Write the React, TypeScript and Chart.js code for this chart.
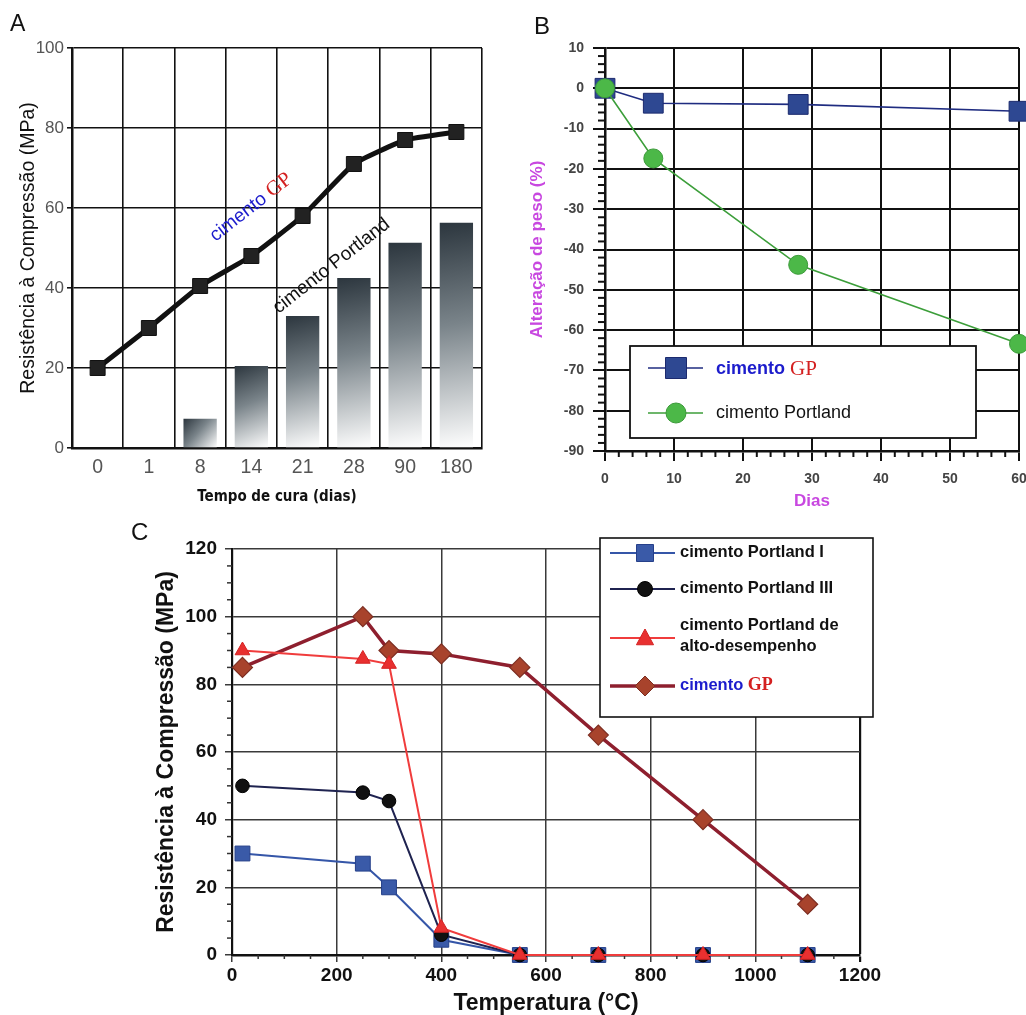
import React, { useEffect, useRef } from 'react';
import { Chart, registerables } from 'chart.js';

Chart.register(...registerables);

const SANS = "'Liberation Sans', Arial, sans-serif";
const NARROW = "'Liberation Sans Narrow', 'DejaVu Sans Condensed', sans-serif";
const SERIF = "'Liberation Serif', 'Times New Roman', serif";

// ---------- Panel A ----------
const curaLabels = ['0', '1', '8', '14', '21', '28', '90', '180'];
const gpResistencia = [20, 30, 40.5, 48, 58, 71, 77, 79];
const portlandResistencia = [null, null, 7.3, 20.5, 33, 42.5, 51.3, 56.3];

// ---------- Panel B ----------
const dias = [0, 7, 28, 60];
const gpPeso = [0, -3.7, -4, -5.7];
const portlandPeso = [0, -17.4, -43.8, -63.4];

// ---------- Panel C ----------
const temperaturas = [20, 250, 300, 400, 550, 700, 900, 1100];
const portlandI = [30, 27, 20, 4.5, 0, 0, 0, 0];
const portlandIII = [50, 48, 45.5, 6, 0, 0, 0, 0];
const altoDesempenho = [90, 87.5, 86, 8, 0, 0, 0, 0];
const gpTemperatura = [85, 100, 90, 89, 85, 65, 40, 15];

const BLUE_TXT = '#1c1ccc';
const RED_TXT = '#d42020';
const MAGENTA = '#c848e0';

function drawMarker(ctx: CanvasRenderingContext2D, style: string, x: number, y: number, r: number, fill: string, stroke: string, lw: number) {
  ctx.beginPath();
  if (style === 'rect') ctx.rect(x - r, y - r, 2 * r, 2 * r);
  else if (style === 'circle') ctx.arc(x, y, r, 0, Math.PI * 2);
  else if (style === 'triangle') {
    ctx.moveTo(x, y - r);
    ctx.lineTo(x + r * 0.95, y + r * 0.75);
    ctx.lineTo(x - r * 0.95, y + r * 0.75);
    ctx.closePath();
  } else if (style === 'diamond') {
    ctx.moveTo(x, y - r);
    ctx.lineTo(x + r, y);
    ctx.lineTo(x, y + r);
    ctx.lineTo(x - r, y);
    ctx.closePath();
  }
  ctx.fillStyle = fill;
  ctx.fill();
  ctx.lineWidth = lw;
  ctx.strokeStyle = stroke;
  ctx.stroke();
}

function hline(ctx: CanvasRenderingContext2D, x0: number, x1: number, y: number, color: string, w: number) {
  ctx.beginPath();
  ctx.moveTo(x0, y);
  ctx.lineTo(x1, y);
  ctx.strokeStyle = color;
  ctx.lineWidth = w;
  ctx.stroke();
}

// label text where a trailing "GP" is drawn red in a serif face
function drawLabel(ctx: CanvasRenderingContext2D, text: string, x: number, y: number, font: string, color: string, gpFont: string) {
  if (text.endsWith(' GP')) {
    const head = text.slice(0, -2);
    ctx.font = font;
    ctx.fillStyle = BLUE_TXT;
    ctx.fillText(head, x, y);
    const w = ctx.measureText(head).width;
    ctx.font = gpFont;
    ctx.fillStyle = RED_TXT;
    ctx.fillText('GP', x + w, y);
  } else {
    ctx.font = font;
    ctx.fillStyle = color;
    ctx.fillText(text, x, y);
  }
}

type MinorAxis = { step: number; major: number; len: number };
function makeMinorTicks(cfg: { x?: MinorAxis; y?: MinorAxis; color: string; width: number }) {
  return {
    id: 'minorTicks',
    beforeDatasetsDraw(chart: any) {
      const { ctx, chartArea } = chart;
      ctx.save();
      ctx.strokeStyle = cfg.color;
      ctx.lineWidth = cfg.width;
      const isMajor = (v: number, m: number) => Math.abs(v / m - Math.round(v / m)) < 1e-6;
      if (cfg.y) {
        const s = chart.scales.y;
        const n = Math.round((s.max - s.min) / cfg.y.step);
        for (let i = 0; i <= n; i++) {
          const v = s.min + i * cfg.y.step;
          if (isMajor(v, cfg.y.major)) continue;
          const p = s.getPixelForValue(v);
          ctx.beginPath();
          ctx.moveTo(chartArea.left, p);
          ctx.lineTo(chartArea.left - cfg.y.len, p);
          ctx.stroke();
        }
      }
      if (cfg.x) {
        const s = chart.scales.x;
        const n = Math.round((s.max - s.min) / cfg.x.step);
        for (let i = 0; i <= n; i++) {
          const v = s.min + i * cfg.x.step;
          if (isMajor(v, cfg.x.major)) continue;
          const p = s.getPixelForValue(v);
          ctx.beginPath();
          ctx.moveTo(p, chartArea.bottom);
          ctx.lineTo(p, chartArea.bottom + cfg.x.len);
          ctx.stroke();
        }
      }
      ctx.restore();
    },
  };
}

const annotA = {
  id: 'annotA',
  afterDatasetsDraw(chart: any) {
    const { ctx } = chart;
    const xs = chart.scales.x;
    const ys = chart.scales.y;
    const step = xs.getPixelForValue(1) - xs.getPixelForValue(0);
    const px = (i: number) => xs.getPixelForValue(0) + i * step;
    const ang = (-38 * Math.PI) / 180;
    ctx.save();
    ctx.textBaseline = 'alphabetic';
    ctx.translate(px(2.3), ys.getPixelForValue(51.5));
    ctx.rotate(ang);
    drawLabel(ctx, chart.data.datasets[0].label, 0, 0, `19px ${SANS}`, '#111', `21px ${SERIF}`);
    ctx.restore();
    ctx.save();
    ctx.textBaseline = 'alphabetic';
    ctx.translate(px(3.53), ys.getPixelForValue(33.5));
    ctx.rotate(ang);
    ctx.font = `19px ${SANS}`;
    ctx.fillStyle = '#111';
    ctx.fillText(chart.data.datasets[1].label, 0, 0);
    ctx.restore();
  },
};

const legendB = {
  id: 'legendB',
  afterDatasetsDraw(chart: any) {
    const { ctx } = chart;
    const ds = chart.data.datasets;
    ctx.save();
    ctx.fillStyle = '#fff';
    ctx.fillRect(120, 346, 346, 92);
    ctx.strokeStyle = '#111';
    ctx.lineWidth = 1.8;
    ctx.strokeRect(120, 346, 346, 92);
    ctx.textBaseline = 'middle';
    hline(ctx, 138, 193, 368, ds[0].borderColor, 1.6);
    drawMarker(ctx, 'rect', 166, 368, 10.5, ds[0].pointBackgroundColor, ds[0].pointBorderColor, 1);
    drawLabel(ctx, ds[0].label, 206, 369, `bold 18px ${SANS}`, '#111', `21px ${SERIF}`);
    hline(ctx, 138, 193, 413, ds[1].borderColor, 1.6);
    drawMarker(ctx, 'circle', 166, 413, 10, ds[1].pointBackgroundColor, ds[1].pointBorderColor, 1);
    drawLabel(ctx, ds[1].label, 206, 413, `18px ${SANS}`, '#111', `20px ${SERIF}`);
    ctx.restore();
  },
};

const legendC = {
  id: 'legendC',
  afterDatasetsDraw(chart: any) {
    const { ctx } = chart;
    const ds = chart.data.datasets;
    ctx.save();
    ctx.fillStyle = '#fff';
    ctx.fillRect(470, 18, 273, 179);
    ctx.strokeStyle = '#111';
    ctx.lineWidth = 1.6;
    ctx.strokeRect(470, 18, 273, 179);
    ctx.textBaseline = 'middle';
    const font = `bold 16.5px ${SANS}`;
    const gpFont = `bold 18px ${SERIF}`;
    const rows = [
      { y: 33, shape: 'rect', r: 8.5, lines: [ds[0].label] },
      { y: 69, shape: 'circle', r: 7.5, lines: [ds[1].label] },
      { y: 118, shape: 'triangle', r: 9, lines: ['cimento Portland de', 'alto-desempenho'] },
      { y: 166, shape: 'diamond', r: 10, lines: [ds[3].label] },
    ];
    rows.forEach((row, i) => {
      const d = ds[i];
      hline(ctx, 480, 545, row.y, d.borderColor, i === 3 ? 3.5 : 2.2);
      drawMarker(ctx, row.shape, 515, row.y, row.r, d.pointBackgroundColor, d.pointBorderColor, 1);
      if (row.lines.length === 1) {
        drawLabel(ctx, row.lines[0], 550, row.y - 1, font, '#111', gpFont);
      } else {
        drawLabel(ctx, row.lines[0], 550, row.y - 13, font, '#111', gpFont);
        drawLabel(ctx, row.lines[1], 550, row.y + 8, font, '#111', gpFont);
      }
    });
    ctx.restore();
  },
};

function barGradient(c: any) {
  const chart = c.chart;
  const area = chart.chartArea;
  if (!area || c.type !== 'data' || c.raw == null) return '#6a737a';
  const xs = chart.scales.x;
  const ys = chart.scales.y;
  const cx = xs.getPixelForValue(c.dataIndex);
  const w = (xs.getPixelForValue(1) - xs.getPixelForValue(0)) * 0.65;
  const top = ys.getPixelForValue(c.raw);
  const bot = ys.getPixelForValue(0);
  const g = chart.ctx.createLinearGradient(cx - w / 2, top, cx + w / 2, bot);
  g.addColorStop(0, '#2c363e');
  g.addColorStop(0.45, '#7a848a');
  g.addColorStop(1, '#ffffff');
  return g;
}

const letterStyle = (left: number, top: number, size: number): React.CSSProperties => ({
  position: 'absolute',
  left,
  top,
  fontFamily: SANS,
  fontSize: size,
  lineHeight: 1,
  color: '#111',
});

export default function App() {
  const refA = useRef<HTMLCanvasElement>(null);
  const refB = useRef<HTMLCanvasElement>(null);
  const refC = useRef<HTMLCanvasElement>(null);

  useEffect(() => {
    Chart.defaults.font.family = SANS;
    const noPlugins = { legend: { display: false }, tooltip: { enabled: false } };

    const chartA = new Chart(refA.current as HTMLCanvasElement, {
      type: 'bar',
      data: {
        labels: curaLabels,
        datasets: [
          {
            type: 'line',
            label: 'cimento GP',
            data: gpResistencia,
            borderColor: '#111',
            borderWidth: 5,
            tension: 0.12,
            pointStyle: 'rect',
            pointRadius: 10.6,
            pointBackgroundColor: '#222',
            pointBorderColor: '#111',
            pointBorderWidth: 1,
            order: 1,
            clip: false,
          } as any,
          {
            type: 'bar',
            label: 'cimento Portland',
            data: portlandResistencia as any,
            backgroundColor: barGradient,
            borderWidth: 0,
            barPercentage: 0.65,
            categoryPercentage: 1,
            order: 2,
          } as any,
        ],
      },
      options: {
        responsive: false,
        animation: false,
        layout: { padding: { left: 0, right: 18, top: 48, bottom: 0 }, autoPadding: false },
        plugins: noPlugins as any,
        scales: {
          x: {
            grid: { color: '#111', lineWidth: 1.6, offset: true, drawTicks: false },
            border: { color: '#111', width: 2.5 },
            ticks: { color: '#555', font: { family: SANS, size: 19.5 }, padding: 8, autoSkip: false, maxRotation: 0 },
            title: {
              display: true,
              text: 'Tempo de cura (dias)',
              color: '#111',
              font: { family: NARROW, size: 15, weight: 'bold' },
              padding: { top: 0, bottom: 9 },
            },
            afterFit: (s: any) => {
              s.height = 67;
            },
          } as any,
          y: {
            min: 0,
            max: 100,
            ticks: { stepSize: 20, color: '#555', font: { family: SANS, size: 17 }, padding: 3 },
            grid: { color: '#111', lineWidth: 1.6, tickLength: 5 },
            border: { color: '#111', width: 2.5 },
            title: {
              display: true,
              text: 'Resistência à Compressão (MPa)',
              color: '#111',
              font: { family: SANS, size: 19.5 },
              padding: { top: 17, bottom: 0 },
            },
            afterFit: (s: any) => {
              s.width = 72;
            },
          } as any,
        },
      },
      plugins: [annotA],
    });

    const chartB = new Chart(refB.current as HTMLCanvasElement, {
      type: 'line',
      data: {
        datasets: [
          {
            label: 'cimento GP',
            data: dias.map((d, i) => ({ x: d, y: gpPeso[i] })),
            borderColor: '#1f2c80',
            borderWidth: 1.6,
            pointStyle: 'rect',
            pointRadius: 14,
            pointBackgroundColor: '#2e4892',
            pointBorderColor: '#1c2a6e',
            pointBorderWidth: 1,
            order: 2,
            clip: false,
          } as any,
          {
            label: 'cimento Portland',
            data: dias.map((d, i) => ({ x: d, y: portlandPeso[i] })),
            borderColor: '#3c9e3a',
            borderWidth: 1.6,
            pointStyle: 'circle',
            pointRadius: 9.5,
            pointBackgroundColor: '#4cb848',
            pointBorderColor: '#3c9a3a',
            pointBorderWidth: 1,
            order: 1,
            clip: false,
          } as any,
        ],
      },
      options: {
        responsive: false,
        animation: false,
        layout: { padding: { left: 0, right: 31, top: 48, bottom: 0 }, autoPadding: false },
        plugins: noPlugins as any,
        scales: {
          x: {
            type: 'linear',
            min: 0,
            max: 60,
            ticks: {
              stepSize: 10,
              color: '#444',
              font: { family: SANS, size: 14, weight: 'bold' },
              padding: 10,
              callback: (v: any) => String(v),
            },
            grid: { color: '#111', lineWidth: 2, tickLength: 10 },
            border: { color: '#111', width: 2.5 },
            title: {
              display: true,
              text: 'Dias',
              color: MAGENTA,
              font: { family: SANS, size: 17, weight: 'bold' },
              padding: { top: 0, bottom: 3 },
            },
            afterFit: (s: any) => {
              s.height = 64;
            },
          } as any,
          y: {
            min: -90,
            max: 10,
            ticks: {
              stepSize: 10,
              color: '#444',
              font: { family: SANS, size: 14, weight: 'bold' },
              padding: 9,
              callback: (v: any) => String(v),
            },
            grid: { color: '#111', lineWidth: 2, tickLength: 12 },
            border: { color: '#111', width: 2.5 },
            title: {
              display: true,
              text: 'Alteração de peso (%)',
              color: MAGENTA,
              font: { family: SANS, size: 17, weight: 'bold' },
              padding: { top: 17.5, bottom: 0 },
            },
            afterFit: (s: any) => {
              s.width = 95;
            },
          } as any,
        },
      },
      plugins: [
        makeMinorTicks({ x: { step: 2, major: 10, len: 6 }, y: { step: 2, major: 10, len: 7 }, color: '#111', width: 2 }),
        legendB,
      ],
    });

    const mk = (arr: number[]) => temperaturas.map((t, i) => ({ x: t, y: arr[i] }));
    const chartC = new Chart(refC.current as HTMLCanvasElement, {
      type: 'line',
      data: {
        datasets: [
          {
            label: 'cimento Portland I',
            data: mk(portlandI),
            borderColor: '#3556a8',
            borderWidth: 2,
            pointStyle: 'rect',
            pointRadius: 10.5,
            pointBackgroundColor: '#3a5aa8',
            pointBorderColor: '#26408a',
            pointBorderWidth: 1,
            order: 4,
            clip: false,
          } as any,
          {
            label: 'cimento Portland III',
            data: mk(portlandIII),
            borderColor: '#1f2350',
            borderWidth: 2,
            pointStyle: 'circle',
            pointRadius: 6.8,
            pointBackgroundColor: '#111',
            pointBorderColor: '#000',
            pointBorderWidth: 1,
            order: 3,
            clip: false,
          } as any,
          {
            label: 'cimento Portland de alto-desempenho',
            data: mk(altoDesempenho),
            borderColor: '#f03c3c',
            borderWidth: 2,
            pointStyle: 'triangle',
            pointRadius: 8.5,
            pointBackgroundColor: '#e83030',
            pointBorderColor: '#d42222',
            pointBorderWidth: 1,
            order: 1,
            clip: false,
          } as any,
          {
            label: 'cimento GP',
            data: mk(gpTemperatura),
            borderColor: '#8e1f2e',
            borderWidth: 3.5,
            pointStyle: 'rectRot',
            pointRadius: 10,
            pointBackgroundColor: '#a8432c',
            pointBorderColor: '#7d2e22',
            pointBorderWidth: 1.2,
            order: 2,
            clip: false,
          } as any,
        ],
      },
      options: {
        responsive: false,
        animation: false,
        layout: { padding: { left: 0, right: 30, top: 29, bottom: 0 }, autoPadding: false },
        plugins: noPlugins as any,
        scales: {
          x: {
            type: 'linear',
            min: 0,
            max: 1200,
            ticks: {
              stepSize: 200,
              color: '#111',
              font: { family: SANS, size: 19, weight: 'bold' },
              padding: 2,
              callback: (v: any) => String(v),
            },
            grid: {
              color: (c: any) => (c.tick && c.tick.value === 1200 ? '#111' : '#3a3a3a'),
              lineWidth: (c: any) => (c.tick && c.tick.value === 1200 ? 2.2 : 1.5),
              tickLength: 7,
            },
            border: { color: '#111', width: 2.5 },
            title: {
              display: true,
              text: 'Temperatura (°C)',
              color: '#111',
              font: { family: SANS, size: 23, weight: 'bold' },
              padding: { top: 0, bottom: 3 },
            },
            afterFit: (s: any) => {
              s.height = 65;
            },
          } as any,
          y: {
            min: 0,
            max: 120,
            ticks: {
              stepSize: 20,
              color: '#111',
              font: { family: SANS, size: 19, weight: 'bold' },
              padding: 8,
            },
            grid: { color: '#3a3a3a', lineWidth: 1.5, tickLength: 7 },
            border: { color: '#111', width: 2.2 },
            title: {
              display: true,
              text: 'Resistência à Compressão (MPa)',
              color: '#111',
              font: { family: SANS, size: 23, weight: 'bold' },
              padding: { top: 23, bottom: 0 },
            },
            afterFit: (s: any) => {
              s.width = 102;
            },
          } as any,
        },
      },
      plugins: [
        makeMinorTicks({ x: { step: 50, major: 200, len: 4 }, y: { step: 5, major: 20, len: 5 }, color: '#333', width: 1.5 }),
        legendC,
      ],
    });

    return () => {
      chartA.destroy();
      chartB.destroy();
      chartC.destroy();
    };
  }, []);

  return (
    <div
      style={{
        position: 'absolute',
        left: 0,
        top: 0,
        width: 1026,
        height: 1015,
        overflow: 'hidden',
        background: '#fff',
      }}
    >
      <canvas ref={refA} width={500} height={515} style={{ position: 'absolute', left: 0, top: 0 }} />
      <canvas ref={refB} width={540} height={515} style={{ position: 'absolute', left: 510, top: 0 }} />
      <canvas ref={refC} width={760} height={500} style={{ position: 'absolute', left: 130, top: 520 }} />
      <div style={letterStyle(10, 12, 23)}>A</div>
      <div style={letterStyle(534, 14, 24)}>B</div>
      <div style={letterStyle(131, 520, 24)}>C</div>
    </div>
  );
}
